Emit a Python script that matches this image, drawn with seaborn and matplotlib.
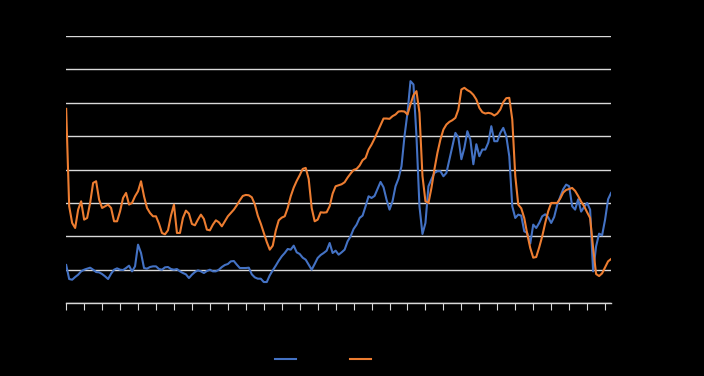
import numpy as np
import pandas as pd
import matplotlib
matplotlib.use("Agg")
import matplotlib.pyplot as plt
import seaborn as sns

# month index (one value every two months)
months = list(range(0, 365, 2))

series_a = [
    1.14, 0.72, 0.70, 0.78, 0.85, 0.95, 1.00, 1.03, 1.06, 1.00,
    0.93, 0.92, 0.87, 0.80, 0.72, 0.88, 1.00, 1.04, 1.00, 0.99,
    1.05, 1.12, 0.95, 1.10, 1.75, 1.50, 1.05, 1.03, 1.08, 1.10,
    1.10, 1.02,
    1.00, 1.07, 1.08, 1.02, 1.00, 1.02, 0.95, 0.90, 0.86, 0.75,
    0.85, 0.93, 0.98, 0.95, 0.90, 0.96, 1.00, 0.95, 0.95, 1.00,
    1.08, 1.14, 1.17, 1.25, 1.26, 1.15, 1.05, 1.05, 1.05,
    1.06, 0.86, 0.77, 0.73, 0.73, 0.63, 0.63, 0.83, 0.98, 1.12,
    1.27, 1.40, 1.50, 1.62, 1.60, 1.72, 1.52, 1.47, 1.36, 1.30,
    1.15, 1.00, 1.17, 1.35, 1.44, 1.50, 1.57, 1.80, 1.50, 1.57,
    1.45, 1.52, 1.60, 1.85, 2.00, 2.22, 2.35, 2.55, 2.62, 2.90,
    3.20, 3.15, 3.21, 3.42, 3.63, 3.47, 3.10, 2.80, 3.05, 3.50,
    3.73, 4.10, 5.00, 5.70, 6.65, 6.55, 5.00, 2.90, 2.07, 2.40,
    3.50,
    3.71, 3.90, 3.95, 3.95, 3.80, 3.90, 4.30, 4.70, 5.10, 4.96,
    4.31, 4.65, 5.15, 4.90, 4.16, 4.76, 4.40, 4.60, 4.60, 4.81,
    5.30, 4.85, 4.85, 5.10, 5.25, 5.00, 4.40, 2.90, 2.55, 2.65,
    2.62, 2.15, 2.10, 1.78, 2.35, 2.25, 2.40, 2.60, 2.66, 2.57,
    2.40, 2.58, 2.94, 3.18, 3.41, 3.55, 3.50, 2.90, 2.80, 3.11,
    2.74, 2.88, 3.00, 2.80, 0.95, 1.70, 2.08, 2.03, 2.50, 3.11,
    3.30,
]

series_b = [
    5.82, 2.90, 2.40, 2.25, 2.80, 3.05, 2.50, 2.55, 3.00, 3.60,
    3.65, 3.10, 2.85, 2.90, 2.95, 2.85, 2.45, 2.45, 2.75, 3.15,
    3.30, 2.95, 3.00, 3.20, 3.35, 3.65, 3.20, 2.85, 2.70, 2.60,
    2.60, 2.38,
    2.10, 2.06, 2.18, 2.62, 2.95, 2.10, 2.10, 2.55, 2.77, 2.68,
    2.37, 2.33, 2.50, 2.65, 2.52, 2.20, 2.18, 2.35, 2.48, 2.42,
    2.30, 2.45, 2.60, 2.70, 2.80, 2.93, 3.08, 3.21, 3.24,
    3.23, 3.17, 2.96, 2.62, 2.38, 2.10, 1.83, 1.60, 1.72, 2.17,
    2.48, 2.56, 2.60, 2.85, 3.20, 3.46, 3.66, 3.83, 4.02, 4.05,
    3.72, 2.85, 2.45, 2.50, 2.72, 2.71, 2.72, 2.90, 3.28, 3.50,
    3.53, 3.56, 3.62, 3.76, 3.88, 3.99, 4.02, 4.12, 4.28, 4.35,
    4.60, 4.75, 4.93, 5.13, 5.33, 5.53, 5.53, 5.52, 5.60, 5.65,
    5.74, 5.75, 5.74, 5.65, 5.95, 6.23, 6.35, 5.70, 3.81, 3.05,
    3.00,
    3.45, 4.01, 4.50, 4.90, 5.20, 5.35, 5.43, 5.48, 5.55, 5.80,
    6.40, 6.45, 6.38, 6.33, 6.24, 6.10, 5.85, 5.72, 5.68, 5.70,
    5.68, 5.62, 5.68, 5.80, 6.02, 6.14, 6.15, 5.50, 3.81, 2.95,
    2.84, 2.55, 2.07, 1.65, 1.36, 1.38, 1.67, 2.00, 2.40, 2.75,
    3.00, 3.00, 3.00, 3.13, 3.31, 3.39, 3.42, 3.45, 3.36, 3.21,
    3.04, 2.90, 2.72, 2.55, 1.65, 0.87, 0.81, 0.89, 1.07, 1.25,
    1.32,
]

series_names = ["Series 1", "Series 2"]
colors = ["#4472C4", "#ED7D31"]
y_ticks = list(range(0, 9))
x_ticks = list(range(0, 361, 12))

df = pd.DataFrame({
    "month": months * 2,
    "value": series_a + series_b,
    "series": [series_names[0]] * len(months) + [series_names[1]] * len(months),
})

fig = plt.figure(figsize=(7.04, 3.76), dpi=100, facecolor="black")
ax = fig.add_axes([0.094, 0.194, 0.774, 0.71])
ax.set_facecolor("black")

sns.lineplot(data=df, x="month", y="value", hue="series",
             palette=colors, linewidth=1.5, ax=ax, legend=True)

ax.set_xlim(0, 364)
ax.set_ylim(0, 8)
ax.set_yticks(y_ticks)
ax.set_xticks(x_ticks)
ax.set_xticklabels([str(1990 + i) for i in range(len(x_ticks))],
                   color="black", fontsize=7, rotation=90)
ax.set_yticklabels([str(v) for v in y_ticks], color="black", fontsize=9)
ax.grid(axis="y", color="#D9D9D9", linewidth=1.0)
ax.set_axisbelow(True)
ax.tick_params(axis="y", length=0)
ax.tick_params(axis="x", length=5, color="#D9D9D9", width=0.8)
for side in ["top", "right", "left"]:
    ax.spines[side].set_visible(False)
ax.spines["bottom"].set_color("#D9D9D9")
ax.spines["bottom"].set_linewidth(1.0)
ax.set_xlabel("")
ax.set_ylabel("")

leg = ax.legend(loc="center", bbox_to_anchor=(0.521, -0.213), ncol=2,
                frameon=False, fontsize=9, handlelength=1.7,
                handletextpad=0.3, columnspacing=0.0)
for t in leg.get_texts():
    t.set_color("black")

fig.savefig("out.png", dpi=100, facecolor="black")
